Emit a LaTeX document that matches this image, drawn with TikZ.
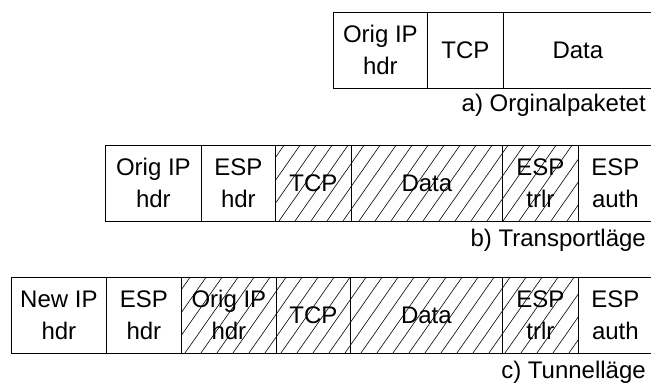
\documentclass[tikz,border=0pt]{standalone}
\usepackage{fontspec}
\setmainfont{Liberation Sans}
\begin{document}
\begin{tikzpicture}[x=1pt,y=-1pt,
  cell/.style={draw, line width=0.8pt, minimum height=76pt, inner sep=0pt,
    anchor=north west, align=center, font=\fontsize{24}{32}\selectfont},
  caption/.style={anchor=base east, inner sep=0pt, font=\fontsize{24}{28}\selectfont},
  hatchline/.style={line width=0.6pt}]
\useasboundingbox (0,0) rectangle (651,385);
\clip (0,0) rectangle (651,385);

% encrypted parts: diagonal hatching
\begin{scope}
  \clip (275,145) rectangle (578,221);
  \foreach \k in {0,...,24}
    \draw[hatchline] (275-60+\k*16,221) -- ++(53.2pt,76pt);
\end{scope}
\begin{scope}
  \clip (181,277) rectangle (578,353);
  \foreach \k in {0,...,32}
    \draw[hatchline] (181-60+\k*16,353) -- ++(53.2pt,76pt);
\end{scope}

% a) original packet
\node[cell, minimum width=94pt]  (a1) at (333,12) {Orig IP\\hdr};
\node[cell, minimum width=76pt]  (a2) at (427,12) {TCP};
\node[cell, minimum width=149pt] (a3) at (503,12) {Data};
\node[caption] (la) at (646,112) {a) Orginalpaketet};

% b) transport mode
\node[cell, minimum width=96pt]  (b1) at (105,145) {Orig IP\\hdr};
\node[cell, minimum width=74pt]  (b2) at (201,145) {ESP\\hdr};
\node[cell, minimum width=76pt]  (b3) at (275,145) {TCP};
\node[cell, minimum width=151pt] (b4) at (351,145) {Data};
\node[cell, minimum width=76pt]  (b5) at (502,145) {ESP\\trlr};
\node[cell, minimum width=74pt]  (b6) at (578,145) {ESP\\auth};
\node[caption] (lb) at (646,246) {b) Transportläge};

% c) tunnel mode
\node[cell, minimum width=95pt]  (c1) at (11,277)  {New IP\\hdr};
\node[cell, minimum width=75pt]  (c2) at (106,277) {ESP\\hdr};
\node[cell, minimum width=95pt]  (c3) at (181,277) {Orig IP\\hdr};
\node[cell, minimum width=74pt]  (c4) at (276,277) {TCP};
\node[cell, minimum width=152pt] (c5) at (350,277) {Data};
\node[cell, minimum width=76pt]  (c6) at (502,277) {ESP\\trlr};
\node[cell, minimum width=74pt]  (c7) at (578,277) {ESP\\auth};
\node[caption] (lc) at (646,378) {c) Tunnelläge};
\end{tikzpicture}
\end{document}
